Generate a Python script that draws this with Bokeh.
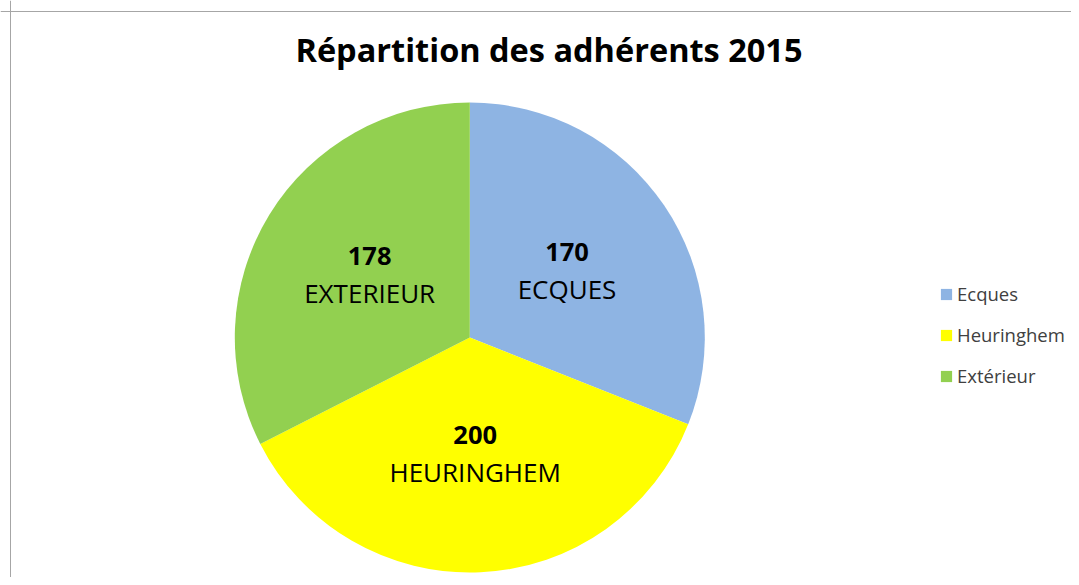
import math
from bokeh.plotting import figure
from bokeh.models import Range1d, Legend, LegendItem, Span, ColumnDataSource
from bokeh.core.properties import value
from bokeh.embed import file_html
from bokeh.resources import INLINE

# ---- data ----
title_text = "Répartition des adhérents 2015"
categories = ["Ecques", "Heuringhem", "Extérieur"]
slice_labels = ["ECQUES", "HEURINGHEM", "EXTERIEUR"]
counts = [170, 200, 178]
colors = ["#8EB4E3", "#FFFF00", "#92D050"]

# ---- layout (screen-like coordinates: data y = 585 - screen y) ----
W, H = 1071, 577
CX, CY = 469.3, 585 - 337
R = 235
FONT = "Open Sans"

total = sum(counts)
starts, ends, lx, ly = [], [], [], []
cum = 0
for c in counts:
    a0 = math.pi / 2 - 2 * math.pi * cum / total
    cum += c
    a1 = math.pi / 2 - 2 * math.pi * cum / total
    starts.append(a1)
    ends.append(a0)
    mid = (a0 + a1) / 2
    lx.append(CX + 0.5 * R * math.cos(mid))
    ly.append(CY + 0.5 * R * math.sin(mid))

src = ColumnDataSource(dict(
    x=[CX] * len(counts), y=[CY] * len(counts),
    start=starts, end=ends, color=colors, cat=categories,
    lx=lx, ly=ly, num=[str(c) for c in counts], name=slice_labels,
))

p = figure(width=W, height=H, output_backend="svg", toolbar_location=None,
           x_range=Range1d(0, W), y_range=Range1d(585 - H, 585),
           x_axis_type=None, y_axis_type=None, min_border=0,
           outline_line_color=None, background_fill_color="white",
           border_fill_color="white")
p.grid.visible = False

r = p.wedge(x="x", y="y", radius=R, radius_units="screen",
            start_angle="start", end_angle="end", fill_color="color",
            line_color=None, source=src)

p.text(x="lx", y="ly", text="num", source=src, text_align="center",
       text_baseline="alphabetic", y_offset=-20, text_font=value(FONT),
       text_font_size="25.5px", text_font_style="bold", text_color="#000000")
p.text(x="lx", y="ly", text="name", source=src, text_align="center",
       text_baseline="alphabetic", y_offset=17, text_font=value(FONT),
       text_font_size="26px", text_color="#000000")

# title
p.text(x=[548.5], y=[585 - 63.3 + 14], text=[title_text], text_align="center",
       text_baseline="alphabetic", text_font=value(FONT), text_font_size="32.5px",
       text_font_style="bold", text_color="#000000")

# chart-area border (top and left edges visible)
p.add_layout(Span(location=585 - 11, dimension="width", line_color="#A6A6A6", line_width=1))
p.add_layout(Span(location=10, dimension="height", line_color="#A6A6A6", line_width=1))

legend = Legend(
    items=[LegendItem(label=categories[i], renderers=[r], index=i) for i in range(len(categories))],
    location=(939, 189), orientation="vertical",
    glyph_width=14, glyph_height=14, label_height=24, spacing=16,
    label_standoff=4, padding=0, margin=0,
    border_line_color=None, background_fill_alpha=0,
    label_text_font=FONT, label_text_font_size="18.5px", label_text_color="#404040",
)
p.add_layout(legend, "center")

open("out.html", "w").write(file_html(p, INLINE))
